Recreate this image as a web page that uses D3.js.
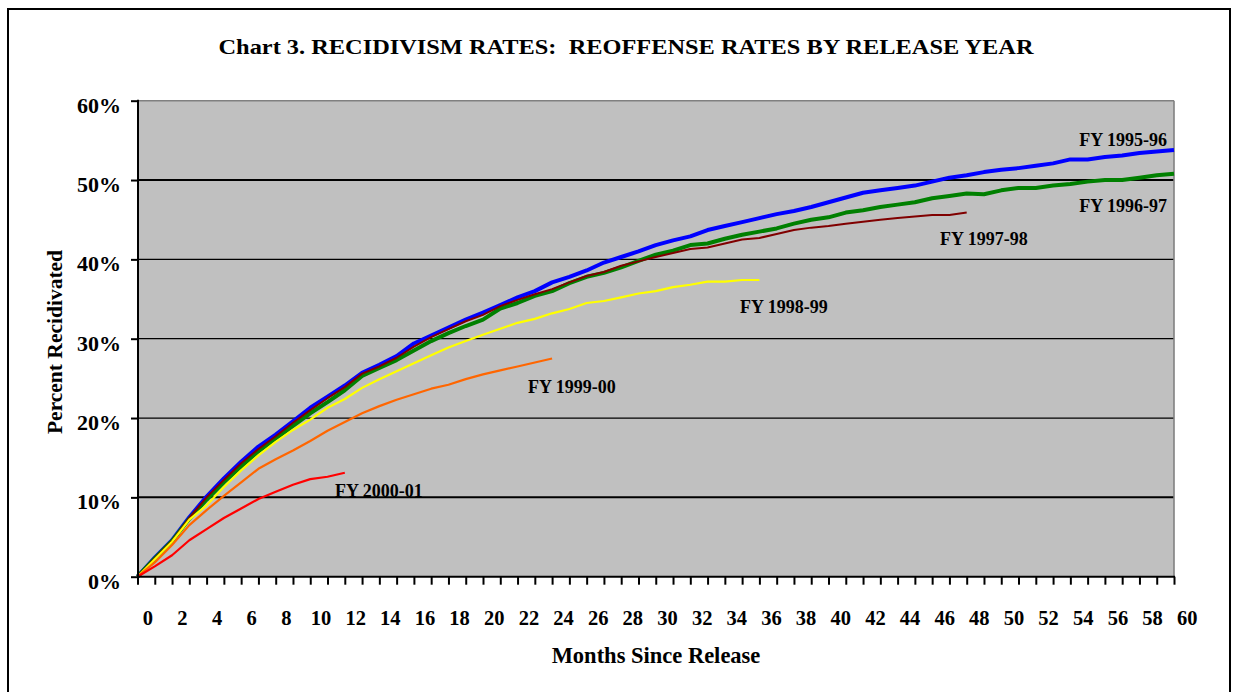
<!DOCTYPE html>
<html>
<head>
<meta charset="utf-8">
<script src="https://cdn.jsdelivr.net/npm/d3@7"></script>
<style>
  html, body { margin: 0; padding: 0; background: #fff; }
  svg { display: block; }
  text { font-family: "Liberation Serif", "Times New Roman", serif; font-weight: bold; fill: #000; white-space: pre; }
</style>
</head>
<body>
<svg id="chart" width="1239" height="692"></svg>
<script>
// ---- data (percent recidivated by months since release) ----
const fy9596 = [0, 2.4, 4.6, 7.5, 10.1, 12.4, 14.5, 16.4, 17.9, 19.6, 21.3, 22.7, 24.1, 25.7, 26.7, 27.8, 29.4, 30.4, 31.4, 32.4,
  33.3, 34.25, 35.2, 36.0, 37.1, 37.8, 38.6, 39.6, 40.3, 41.0, 41.8, 42.4, 42.9, 43.7, 44.2, 44.7, 45.2, 45.7, 46.1, 46.6,
  47.2, 47.8, 48.4, 48.7, 49.0, 49.3, 49.8, 50.3, 50.6, 51.0, 51.3, 51.5, 51.8, 52.1, 52.6, 52.6, 52.9, 53.1, 53.4, 53.6, 53.8];
const fy9697 = [0, 2.3, 4.5, 7.3, 9.7, 11.9, 13.9, 15.8, 17.4, 19.0, 20.6, 22.0, 23.5, 25.3, 26.3, 27.3, 28.5, 29.7, 30.7, 31.6,
  32.4, 33.8, 34.5, 35.4, 36.0, 37.0, 37.8, 38.3, 39.0, 39.8, 40.6, 41.1, 41.8, 42.0, 42.6, 43.1, 43.5, 43.9, 44.5, 45.0,
  45.3, 45.9, 46.2, 46.6, 46.9, 47.2, 47.7, 48.0, 48.3, 48.2, 48.7, 49.0, 49.0, 49.3, 49.5, 49.8, 50.0, 50.0, 50.3, 50.6, 50.8];
const fy9798 = [0, 2.3, 4.5, 7.4, 10.0, 12.2, 14.3, 16.1, 17.7, 19.4, 21.0, 22.5, 23.9, 25.6, 26.5, 27.6, 29.0, 30.2, 31.2, 32.2,
  33.0, 34.1, 34.9, 35.6, 36.25, 37.1, 37.9, 38.4, 39.2, 39.75, 40.3, 40.8, 41.3, 41.5, 42.0, 42.5, 42.7, 43.2, 43.7, 44.0,
  44.2, 44.5, 44.75, 45.0, 45.2, 45.4, 45.6, 45.6, 45.9];
const fy9899 = [0, 2.2, 4.4, 7.2, 9.0, 11.3, 13.4, 15.3, 17.0, 18.5, 19.8, 21.3, 22.4, 23.8, 24.9, 25.9, 26.9, 27.9, 28.9, 29.7,
  30.5, 31.25, 32.0, 32.5, 33.2, 33.75, 34.5, 34.75, 35.2, 35.7, 36.0, 36.5, 36.8, 37.2, 37.2, 37.4, 37.4];
const fy9900 = [0, 1.8, 4.0, 6.5, 8.4, 10.2, 11.9, 13.6, 14.8, 15.9, 17.1, 18.4, 19.5, 20.6, 21.5, 22.3, 23.0, 23.7, 24.2, 24.9,
  25.5, 26.0, 26.5, 27.0, 27.5];
const fy0001 = [0, 1.3, 2.7, 4.6, 6.0, 7.4, 8.6, 9.8, 10.7, 11.6, 12.3, 12.6, 13.1];

const seriesNames = ["FY 1995-96", "FY 1996-97", "FY 1997-98", "FY 1998-99", "FY 1999-00", "FY 2000-01"];
const xTickLabels = [0,2,4,6,8,10,12,14,16,18,20,22,24,26,28,30,32,34,36,38,40,42,44,46,48,50,52,54,56,58,60];
const yTicks = [0,10,20,30,40,50,60];
const monthTicks = [0,1,2,3,4,5,6,7,8,9,10,11,12,13,14,15,16,17,18,19,20,21,22,23,24,25,26,27,28,29,30,
  31,32,33,34,35,36,37,38,39,40,41,42,43,44,45,46,47,48,49,50,51,52,53,54,55,56,57,58,59,60];

const title = "Chart 3. RECIDIVISM RATES:  REOFFENSE RATES BY RELEASE YEAR";
const xTitle = "Months Since Release";
const yTitle = "Percent Recidivated";

// ---- layout ----
const svg = d3.select("#chart");
const L = 138, R = 1174, T = 100.7, B = 576.7;
const x = d3.scaleLinear().domain([0, 60]).range([137.5, R]);
const xLab = d3.scaleLinear().domain([0, 60]).range([147.3, 1186.7]);
const y = d3.scaleLinear().domain([0, 60]).range([B, T]);
const FONT = '"Liberation Serif", "Times New Roman", serif';

svg.append("rect").attr("x", 0).attr("y", 0).attr("width", 1239).attr("height", 692).attr("fill", "#fff");
svg.append("rect").attr("x", 8).attr("y", 9).attr("width", 1222).attr("height", 700)
  .attr("fill", "none").attr("stroke", "#000").attr("stroke-width", 2);

// plot area
svg.append("rect").attr("x", L).attr("y", T).attr("width", R - L).attr("height", B - T).attr("fill", "#C0C0C0");

// gridlines
svg.append("g").selectAll("line").data(yTicks.filter(v => v > 0 && v < 60)).join("line")
  .attr("x1", L).attr("x2", R).attr("y1", d => y(d)).attr("y2", d => y(d))
  .attr("stroke", "#000").attr("stroke-width", d => (d === 10 || d === 50) ? 2 : 1.2);
// top & right border of plot
svg.append("line").attr("x1", L).attr("x2", R).attr("y1", y(60)).attr("y2", y(60)).attr("stroke", "#808080").attr("stroke-width", 1.6);
svg.append("line").attr("x1", R).attr("x2", R).attr("y1", T).attr("y2", B).attr("stroke", "#808080").attr("stroke-width", 1.6);

// series lines
const line = d3.line().x((d, i) => x(i)).y(d => y(d));
const series = [
  { data: fy9596, color: "#0000FF", w: 4 },
  { data: fy9697, color: "#008000", w: 4 },
  { data: fy9798, color: "#800000", w: 2 },
  { data: fy9899, color: "#FFFF00", w: 2.2 },
  { data: fy9900, color: "#FF6600", w: 2.2 },
  { data: fy0001, color: "#FF0000", w: 2.2 }
];
svg.append("g").selectAll("path").data(series).join("path")
  .attr("d", d => line(d.data)).attr("fill", "none")
  .attr("stroke", d => d.color).attr("stroke-width", d => d.w)
  .attr("stroke-linejoin", "round").attr("stroke-linecap", "butt");

// axes lines
svg.append("line").attr("x1", L).attr("x2", L).attr("y1", T - 1).attr("y2", B + 1).attr("stroke", "#000").attr("stroke-width", 2);
svg.append("line").attr("x1", L - 1).attr("x2", R + 1).attr("y1", B).attr("y2", B).attr("stroke", "#000").attr("stroke-width", 2);

// x tick marks
svg.append("g").attr("transform", `translate(0,${B})`)
  .call(d3.axisBottom(x).tickValues(monthTicks).tickSize(8).tickFormat(""))
  .call(g => g.select(".domain").remove())
  .call(g => g.selectAll(".tick line").attr("stroke", "#000").attr("stroke-width", 2));

// x tick labels
svg.append("g").attr("transform", `translate(0,${B})`)
  .call(d3.axisBottom(xLab).tickValues(xTickLabels).tickSize(0).tickPadding(0).tickFormat(d3.format("d")))
  .call(g => g.select(".domain").remove())
  .call(g => g.selectAll(".tick text").attr("dy", null).attr("y", 48)
    .style("font-family", FONT).style("font-weight", "bold").style("font-size", "20.5px").attr("fill", "#000"));

// y ticks and labels
svg.append("g").attr("transform", `translate(${L},0)`)
  .call(d3.axisLeft(y).tickValues(yTicks).tickSize(7).tickPadding(0).tickFormat(d => d + "%"))
  .call(g => g.select(".domain").remove())
  .call(g => g.selectAll(".tick line").attr("stroke", "#000").attr("stroke-width", 2))
  .call(g => g.selectAll(".tick text").attr("x", -17).attr("dy", null).attr("y", 11.5)
    .style("font-family", FONT).style("font-weight", "bold").style("font-size", "22px").attr("fill", "#000"));

// titles
svg.append("text").attr("x", 626).attr("y", 54).attr("text-anchor", "middle")
  .attr("textLength", 815).attr("lengthAdjust", "spacingAndGlyphs")
  .style("font-size", "22px").text(title);
svg.append("text").attr("x", 656).attr("y", 663).attr("text-anchor", "middle").style("font-size", "22.5px").text(xTitle);
svg.append("text").attr("transform", "translate(62,342) rotate(-90)").attr("text-anchor", "middle").style("font-size", "21.5px").text(yTitle);

// series labels
const labelPos = [
  { x: 1167, y: 146, anchor: "end" },
  { x: 1167, y: 211.5, anchor: "end" },
  { x: 940, y: 245, anchor: "start" },
  { x: 740, y: 313, anchor: "start" },
  { x: 528, y: 393, anchor: "start" },
  { x: 335, y: 497, anchor: "start" }
];
svg.append("g").selectAll("text").data(seriesNames).join("text")
  .attr("x", (d, i) => labelPos[i].x).attr("y", (d, i) => labelPos[i].y)
  .attr("text-anchor", (d, i) => labelPos[i].anchor)
  .style("font-size", "18px").text(d => d);
</script>
</body>
</html>
